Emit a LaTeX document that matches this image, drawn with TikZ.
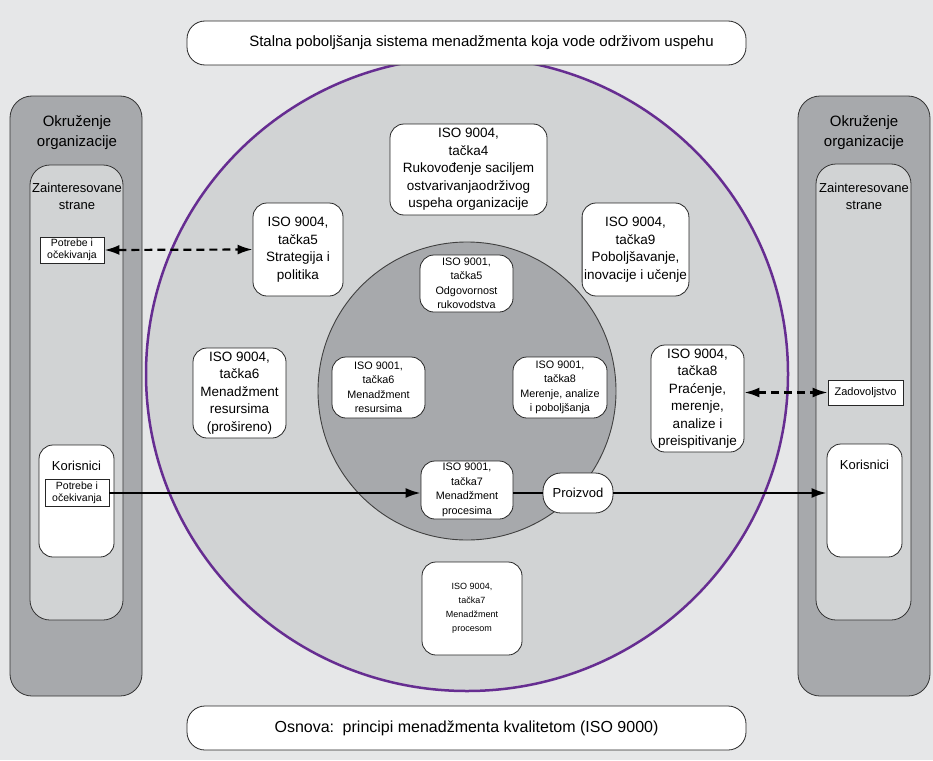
\documentclass[tikz,border=0pt]{standalone}
\usepackage{fontspec}
\setmainfont{Liberation Sans}
\usetikzlibrary{arrows.meta}
\definecolor{bgc}{HTML}{E6E7E8}
\definecolor{darkg}{HTML}{A7A9AC}
\definecolor{lightg}{HTML}{D1D3D4}
\definecolor{purp}{HTML}{662D91}
\begin{document}
\begin{tikzpicture}[x=1pt,y=-1pt,
  wbox/.style={draw=black!85, fill=white, rounded corners=14pt, line width=0.8pt, align=center, inner sep=2pt},
  bigtxt/.style={font=\fontsize{13.5}{17.5}\selectfont},
  midtxt/.style={font=\fontsize{10.8}{14.5}\selectfont},
  smtxt/.style={font=\fontsize{9}{14}\selectfont},
  sbox/.style={draw=black!85, fill=white, line width=0.8pt, align=center, inner sep=1pt, font=\fontsize{10.5}{12}\selectfont},
  colbox/.style={draw=black!80, line width=0.8pt, rounded corners=22pt, inner sep=0pt},
  lbl/.style={align=center, inner sep=0pt},
  arr/.style={line width=2.2pt, -{Latex[length=15pt,width=10pt]}},
  darr/.style={line width=2.2pt, dash pattern=on 8pt off 5pt, {Latex[length=15pt,width=10pt]}-{Latex[length=15pt,width=10pt]}}
]
\fill[bgc] (0,0) rectangle (933,760);
\useasboundingbox (0,0) rectangle (933,760);

% columns
\node[colbox, fill=darkg, minimum width=132, minimum height=600] (lout) at (76,396) {};
\node[colbox, fill=lightg, minimum width=93, minimum height=455, rounded corners=20pt] (lin) at (76.5,392.5) {};
\node[colbox, fill=darkg, minimum width=132, minimum height=600] (rout) at (864,396) {};
\node[colbox, fill=lightg, minimum width=95, minimum height=456, rounded corners=20pt] (rin) at (863.5,392) {};

\node[lbl, font=\fontsize{15}{20}\selectfont] (lokr) at (77,133) {Okruženje\\organizacije};
\node[lbl, font=\fontsize{13}{17}\selectfont] (lzai) at (77,196) {Zainteresovane\\strane};
\node[lbl, font=\fontsize{15}{20}\selectfont] (rokr) at (864,133) {Okruženje\\organizacije};
\node[lbl, font=\fontsize{13}{17}\selectfont] (rzai) at (864,196) {Zainteresovane\\strane};

\node[sbox, minimum width=64, minimum height=26] (pot1) at (72,250) {Potrebe i\\očekivanja};

\node[wbox, minimum width=75, minimum height=112] (kor1) at (76.5,501) {};
\node[lbl, font=\fontsize{13}{15}\selectfont] (kor1t) at (76.5,466) {Korisnici};
\node[sbox, minimum width=64, minimum height=27] (pot2) at (77,493) {Potrebe i\\očekivanja};

\node[sbox, minimum width=75, minimum height=25, font=\fontsize{11}{12}\selectfont] (zad) at (865.5,392.5) {Zadovoljstvo};
\node[wbox, minimum width=75, minimum height=113] (kor2) at (864.5,500.5) {};
\node[lbl, font=\fontsize{13}{15}\selectfont] (kor2t) at (864.5,465) {Korisnici};

% circles
\draw[fill=lightg, draw=purp, line width=2.5pt] (467,374) ellipse [x radius=321pt, y radius=317pt];
\draw[fill=darkg, draw=black!75, line width=0.9pt] (467,391) circle [radius=149pt];

% top / bottom boxes
\node[wbox, rounded corners=18pt, minimum width=559, minimum height=44, font=\fontsize{15}{17}\selectfont] (top) at (466.5,43) {\hspace*{30pt}Stalna poboljšanja sistema menadžmenta koja vode održivom uspehu};
\node[wbox, rounded corners=18pt, minimum width=559, minimum height=44, font=\fontsize{16}{17}\selectfont] (bot) at (466.5,728) {Osnova:\, principi menadžmenta kvalitetom (ISO 9000)};

% ISO 9004 boxes
\node[wbox, bigtxt, minimum width=157, minimum height=91] (t4) at (468.5,169.5) {ISO 9004,\\tačka4\\Rukovođenje saciljem\\ostvarivanjaodrživog\\uspeha organizacije};
\node[wbox, bigtxt, minimum width=90, minimum height=93] (s5) at (298,249.5) {ISO 9004,\\tačka5\\Strategija i\\politika};
\node[wbox, bigtxt, minimum width=105, minimum height=93] (t9) at (635.5,249.5) {ISO 9004,\\tačka9\\Poboljšavanje,\\inovacije i učenje};
\node[wbox, bigtxt, minimum width=93, minimum height=90] (t6) at (239.5,393) {ISO 9004,\\tačka6\\Menadžment\\resursima\\(prošireno)};
\node[wbox, bigtxt, minimum width=93, minimum height=107] (t8) at (697.5,398.5) {ISO 9004,\\tačka8\\Praćenje,\\merenje,\\analize i\\preispitivanje};
\node[wbox, smtxt, minimum width=100, minimum height=93] (t7) at (472,608.5) {ISO 9004,\\tačka7\\Menadžment\\procesom};

% ISO 9001 boxes
\node[wbox, midtxt, minimum width=93, minimum height=57] (a5) at (466.5,283.5) {ISO 9001,\\tačka5\\Odgovornost\\rukovodstva};
\node[wbox, midtxt, minimum width=93, minimum height=61] (a6) at (378.5,387.5) {ISO 9001,\\tačka6\\Menadžment\\resursima};
\node[wbox, midtxt, minimum width=94, minimum height=61] (a8) at (560,387.5) {ISO 9001,\\tačka8\\Merenje, analize\\i poboljšanja};
\node[wbox, midtxt, minimum width=92, minimum height=58] (a7) at (467,490) {ISO 9001,\\tačka7\\Menadžment\\procesima};
\node[wbox, rounded corners=18pt, minimum width=70, minimum height=40, font=\fontsize{13}{15}\selectfont] (prod) at (578,493) {Proizvod};

% connectors
\draw[darr] (pot1.east) -- (s5.west);
\draw[darr] (zad.west -| t8.east) -- (zad.west);
\draw[arr] (pot2.east) -- (pot2.east -| a7.west);
\draw[line width=2.2pt] (prod.west -| a7.east) -- (prod.west);
\draw[arr] (prod.east) -- (prod.east -| kor2.west);
\end{tikzpicture}
\end{document}
